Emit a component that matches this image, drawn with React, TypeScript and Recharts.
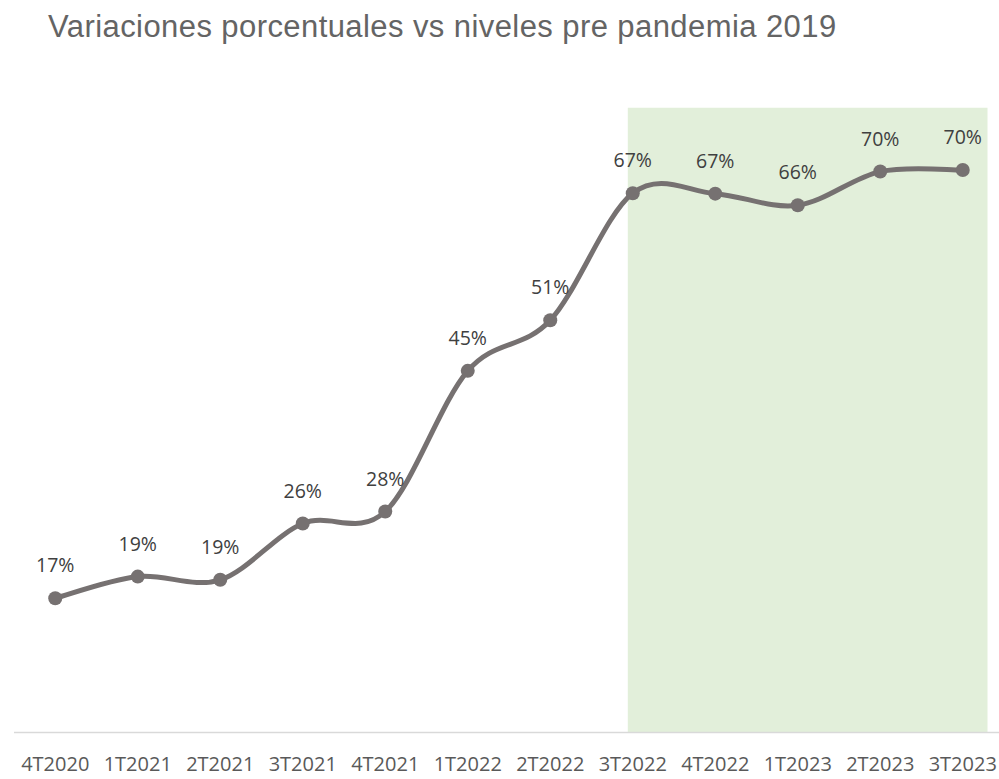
import { LabelList, Line, LineChart, ReferenceArea, XAxis, YAxis } from 'recharts';

const quarters = ['4T2020', '1T2021', '2T2021', '3T2021', '4T2021', '1T2022', '2T2022', '3T2022', '4T2022', '1T2023', '2T2023', '3T2023'];
const variation = [16.7, 19.4, 19.0, 26.0, 27.5, 45.0, 51.3, 67.1, 67.05, 65.6, 69.8, 70.0];

// shaded "recent" period, in category index units / percent
const highlightX = [6.94, 11.3];
const highlightTop = 77.75;

const data = quarters.map((q, i) => ({ idx: i, quarter: q, value: variation[i] }));

// Excel-style smoothed line (Catmull-Rom through every point)
const excelSmooth = (context: any) => {
  let pts: [number, number][] = [];
  return {
    areaStart() {},
    areaEnd() {},
    lineStart() {
      pts = [];
    },
    point(x: number, y: number) {
      pts.push([+x, +y]);
    },
    lineEnd() {
      if (!pts.length) return;
      context.moveTo(pts[0][0], pts[0][1]);
      for (let i = 0; i < pts.length - 1; i++) {
        const p0 = pts[Math.max(i - 1, 0)];
        const p1 = pts[i];
        const p2 = pts[i + 1];
        const p3 = pts[Math.min(i + 2, pts.length - 1)];
        context.bezierCurveTo(
          p1[0] + (p2[0] - p0[0]) / 6,
          p1[1] + (p2[1] - p0[1]) / 6,
          p2[0] - (p3[0] - p1[0]) / 6,
          p2[1] - (p3[1] - p1[1]) / 6,
          p2[0],
          p2[1],
        );
      }
    },
  };
};

function QuarterTick({ x, payload }: any) {
  return (
    <text x={x} y={771} textAnchor="middle" fill="#595959" fontSize={20} fontFamily="Open Sans">
      {quarters[payload.value]}
    </text>
  );
}

export default function App() {
  return (
    <div style={{ position: 'fixed', left: 0, top: 0, width: 999, height: 779, overflow: 'hidden', background: '#fff' }}>
      <div
        style={{
          position: 'absolute',
          left: 48,
          top: 11,
          fontFamily: 'Liberation Sans, Arial, sans-serif',
          fontSize: 31,
          lineHeight: '31px',
          letterSpacing: 0.42,
          color: '#646464',
          whiteSpace: 'nowrap',
        }}
      >
        Variaciones porcentuales vs niveles pre pandemia 2019
      </div>
      <div style={{ position: 'absolute', left: 0, top: 0 }}>
        <LineChart width={1004} height={779} data={data} margin={{ top: 89.6, right: 0, left: 14, bottom: 16.5 }}>
          <ReferenceArea x1={highlightX[0]} x2={highlightX[1]} y1={0} y2={highlightTop} fill="#E2EFDA" fillOpacity={1} stroke="none" />
          <XAxis
            dataKey="idx"
            type="number"
            domain={[-0.5, 11.5]}
            ticks={quarters.map((_, i) => i)}
            height={30}
            axisLine={{ stroke: '#d9d9d9', strokeWidth: 1.5 }}
            tickLine={false}
            tick={<QuarterTick />}
            interval={0}
          />
          <YAxis hide domain={[0, 80]} type="number" />
          <Line
            dataKey="value"
            type={excelSmooth as any}
            stroke="#767171"
            strokeWidth={5}
            dot={{ r: 7, fill: '#767171', stroke: '#767171', strokeWidth: 0 }}
            activeDot={false}
            isAnimationActive={false}
          >
            <LabelList
              dataKey="value"
              position="top"
              offset={26}
              formatter={(v: any) => `${Math.round(Number(v))}%`}
              fill="#404040"
              fontSize={19.5}
              fontFamily="Open Sans"
            />
          </Line>
        </LineChart>
      </div>
    </div>
  );
}
